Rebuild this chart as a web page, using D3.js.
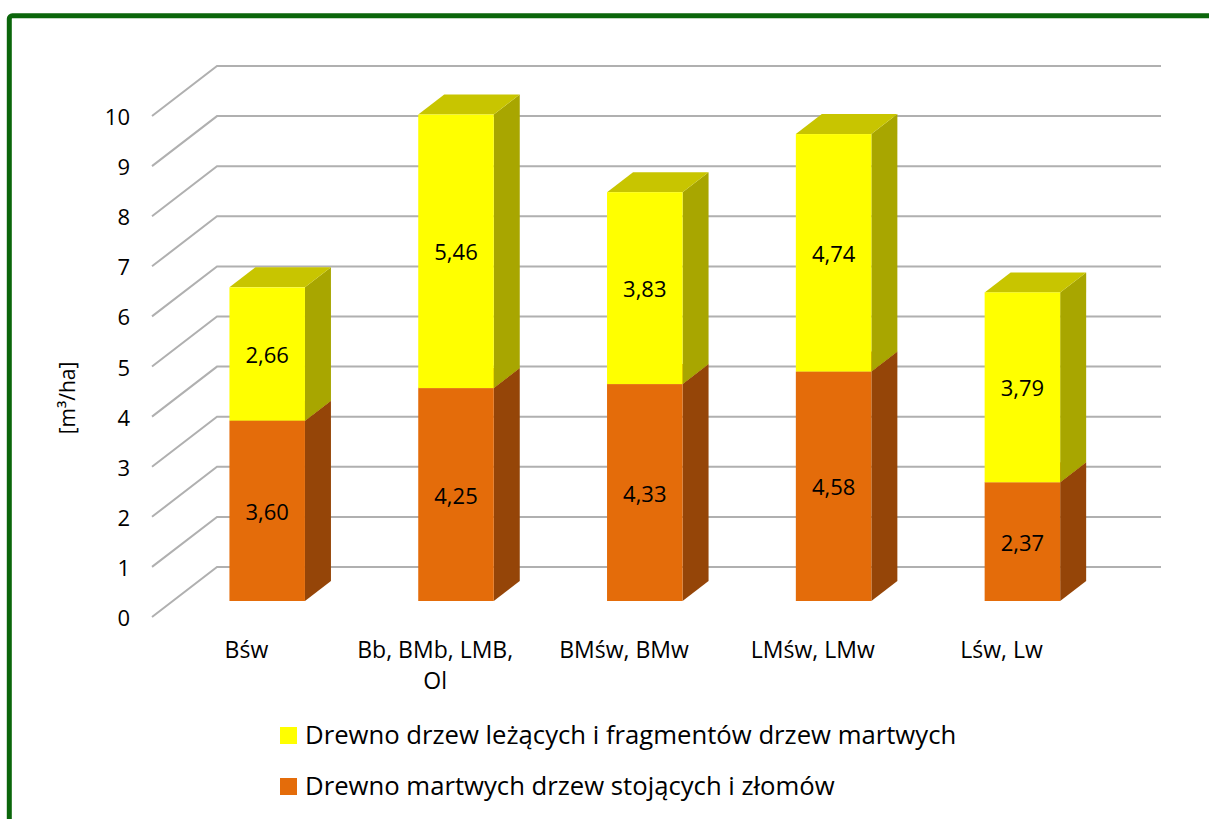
<!DOCTYPE html>
<html>
<head>
<meta charset="utf-8">
<script src="https://cdn.jsdelivr.net/npm/d3@7"></script>
<style>
  body { margin: 0; background: #fff; }
  svg text { font-family: "Open Sans", sans-serif; fill: #000; }
</style>
</head>
<body>
<svg id="chart" width="1209" height="819"></svg>
<script>
// Data

var categories = ["Bśw", "Bb, BMb, LMB, Ol", "BMśw, BMw", "LMśw, LMw", "Lśw, Lw"];
var standing = [3.60, 4.25, 4.33, 4.58, 2.37];
var lying = [2.66, 5.46, 3.83, 4.74, 3.79];
var yTicks = [0, 1, 2, 3, 4, 5, 6, 7, 8, 9, 10];
var seriesNames = ["Drewno drzew leżących i fragmentów drzew martwych", "Drewno martwych drzew stojących i złomów"];

// Chart

var svg = d3.select("#chart");
var pl = d3.formatLocale({decimal: ",", thousands: " ", grouping: [3], currency: ["", " zł"]});
var fmt = pl.format(".2f");

// outer green frame
svg.append("rect")
  .attr("x", 9.3).attr("y", 15.8)
  .attr("width", 1240).attr("height", 840)
  .attr("rx", 3)
  .attr("fill", "none")
  .attr("stroke", "#0b660b")
  .attr("stroke-width", 5);

var x = d3.scaleBand().domain(categories).range([152, 1096]);
var y = d3.scaleLinear().domain([0, 10]).range([617, 116]);

// depth of the floor and where the bars sit in it
var DX = 65, DY = -50;
var z0 = 0.32, z1 = 0.72;
var barFrac = 0.4;

function pt(px, py, z) { return [px + z * DX, py + z * DY]; }

// gridlines (side wall + back wall)
var grid = svg.append("g");
yTicks.forEach(function(t) {
  var a = pt(x.range()[0], y(t), 0), b = pt(x.range()[0], y(t), 1), c = pt(x.range()[1], y(t), 1);
  grid.append("polyline")
    .attr("points", [a, b, c].map(function(p) { return p.join(","); }).join(" "))
    .attr("fill", "none")
    .attr("stroke", "#b0b0b0")
    .attr("stroke-width", 2);
  svg.append("text")
    .attr("x", 130).attr("y", y(t))
    .attr("text-anchor", "end")
    .attr("dominant-baseline", "central")
    .style("font-size", "22px")
    .text(t);
});

// bars
var colors = [
  {front: "#e46c0a", side: "#954508", top: "#b85a0a"},
  {front: "#ffff00", side: "#a8a600", top: "#c8c500"}
];

var bars = svg.append("g");
categories.forEach(function(c, i) {
  var w = x.bandwidth() * barFrac;
  var left = x(c) + (x.bandwidth() - w) / 2;
  var segs = [[0, standing[i]], [standing[i], standing[i] + lying[i]]];
  segs.forEach(function(s, k) {
    var col = colors[k];
    var fb = pt(left, y(s[0]), z0), ft = pt(left, y(s[1]), z0);
    var fr = pt(left + w, y(s[0]), z0), frt = pt(left + w, y(s[1]), z0);
    var bb = pt(left + w, y(s[0]), z1), bt = pt(left + w, y(s[1]), z1);
    var blt = pt(left, y(s[1]), z1);
    // right side
    bars.append("polygon")
      .attr("points", [fr, bb, bt, frt].map(function(p) { return p.join(","); }).join(" "))
      .attr("fill", col.side);
    // top
    bars.append("polygon")
      .attr("points", [ft, frt, bt, blt].map(function(p) { return p.join(","); }).join(" "))
      .attr("fill", col.top);
    // front
    bars.append("rect")
      .attr("x", ft[0]).attr("y", ft[1])
      .attr("width", w).attr("height", fb[1] - ft[1])
      .attr("fill", col.front);
    var mid = pt(left + w / 2, y((s[0] + s[1]) / 2), z0);
    bars.append("text")
      .attr("x", mid[0]).attr("y", mid[1])
      .attr("text-anchor", "middle")
      .attr("dominant-baseline", "central")
      .style("font-size", "22px")
      .text(fmt(s[1] - s[0]));
  });
});

// category labels, wrapped
categories.forEach(function(c) {
  var cx = x(c) + x.bandwidth() / 2;
  var t = svg.append("text")
    .attr("x", cx)
    .attr("y", 658)
    .attr("text-anchor", "middle")
    .style("font-size", "23px");
  var words = c.split(" "), line = [], tspan = t.append("tspan").attr("x", cx);
  words.forEach(function(wd) {
    line.push(wd);
    tspan.text(line.join(" "));
    if (tspan.node().getComputedTextLength() > 172 && line.length > 1) {
      line.pop();
      tspan.text(line.join(" "));
      line = [wd];
      tspan = t.append("tspan").attr("x", cx).attr("dy", 31).text(wd);
    }
  });
});

// y axis title
svg.append("text")
  .attr("transform", "translate(75,398) rotate(-90)")
  .attr("text-anchor", "middle")
  .style("font-size", "21px")
  .text("[m³/ha]");

// legend
var legend = svg.append("g");
[[colors[1].front, seriesNames[0], 727], [colors[0].front, seriesNames[1], 778]].forEach(function(d) {
  legend.append("rect")
    .attr("x", 280).attr("y", d[2])
    .attr("width", 17).attr("height", 17)
    .attr("fill", d[0]);
  legend.append("text")
    .attr("x", 305).attr("y", d[2] + 16.5)
    .style("font-size", "25.7px")
    .text(d[1]);
});
</script>
</body>
</html>
